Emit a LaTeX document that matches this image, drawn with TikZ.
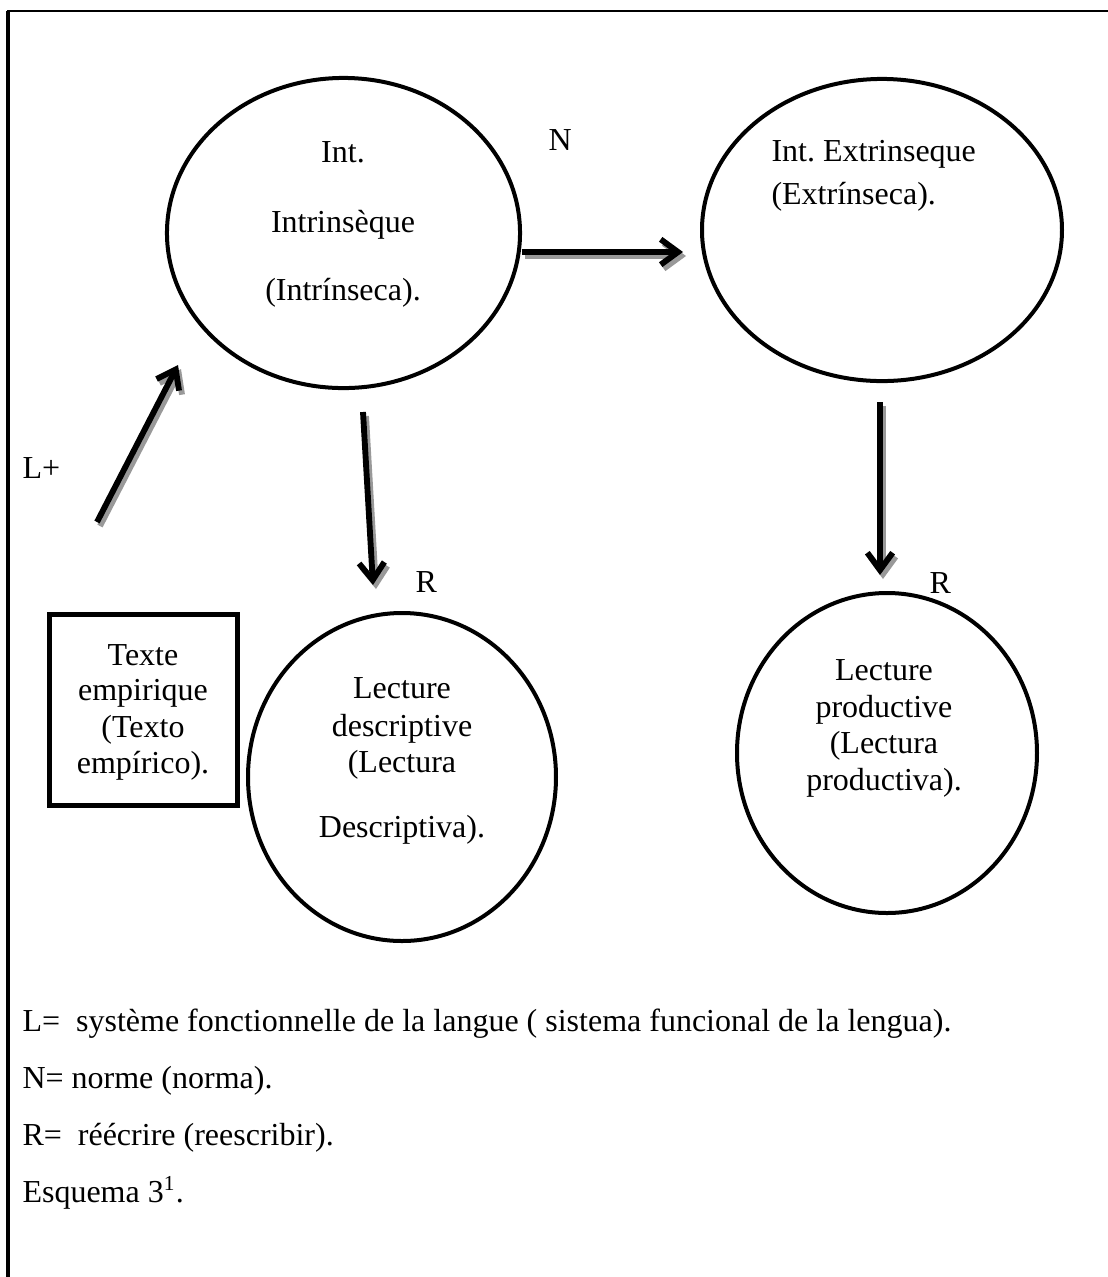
\documentclass[tikz,border=0pt]{standalone}
\usepackage{fontspec}
\setmainfont{Liberation Serif}
\usetikzlibrary{shapes.geometric,arrows.meta}
\begin{document}
\begin{tikzpicture}[x=0.375pt,y=-0.375pt,
  font=\fontsize{12}{14}\selectfont\frenchspacing,
  oval/.style={draw, line width=1.5pt, ellipse, inner sep=0pt},
  lbl/.style={anchor=base, inner sep=0pt},
  lblw/.style={anchor=base west, inner sep=0pt},
  arr/.style={line width=2.2pt, line join=round,
    -{Straight Barb[length=6.5pt,width=9.5pt]}},
  arrshadow/.style={arr, draw=black!40, transform canvas={shift={(3,4)}}},
]
% page
\fill[white] (0,0) rectangle (1108,1277);
\useasboundingbox (0,0) rectangle (1108,1277);
% frame (left and top sides)
\draw[line width=1.2pt] (8,1277) -- (8,10.5);
\draw[line width=0.9pt] (7.4,11) -- (1108,11);

% ovals
\node[oval, minimum width=132.4pt, minimum height=116.3pt] (intr) at (343.5,233) {};
\node[oval, minimum width=135pt, minimum height=113.3pt] (extr) at (882,230) {};
\node[oval, minimum width=115.5pt, minimum height=123pt] (desc) at (402,777) {};
\node[oval, minimum width=112.5pt, minimum height=120pt] (prod) at (887,753) {};
% box
\node[draw, line width=1.9pt, minimum width=70.5pt, minimum height=71.6pt, inner sep=0pt] (texte) at (143.5,710) {};

% text inside the shapes
\node[lbl] (t1a) at (343,162) {Int.};
\node[lbl] (t1b) at (343,232) {Intrinsèque};
\node[lbl] (t1c) at (343,300) {(Intrínseca).};
\node[lblw] (t2a) at (771,161) {Int. Extrinseque};
\node[lblw] (t2b) at (771,204) {(Extrínseca).};
\node[lbl] (t3a) at (402,698) {Lecture};
\node[lbl] (t3b) at (402,736) {descriptive};
\node[lbl] (t3c) at (402,772) {(Lectura};
\node[lbl] (t3d) at (402,837) {Descriptiva).};
\node[lbl] (t4a) at (884,680) {Lecture};
\node[lbl] (t4b) at (884,717) {productive};
\node[lbl] (t4c) at (884,753) {(Lectura};
\node[lbl] (t4d) at (884,790) {productiva).};
\node[lbl] (t5a) at (143,665) {Texte};
\node[lbl] (t5b) at (143,700) {empirique};
\node[lbl] (t5c) at (143,737) {(Texto};
\node[lbl] (t5d) at (143,773) {empírico).};

% connector labels
\node[lblw] (lN) at (548,150) {N};
\node[lblw] (lL) at (22,478) {L+};
\node[lblw] (lR1) at (415,592) {R};
\node[lblw] (lR2) at (929,593) {R};

% arrow end points
\coordinate (hA) at (522,252);
\coordinate (hB) at (683,252);
\coordinate (gA) at (97,522);
\coordinate (gB) at (178,365);
\coordinate (dA) at (363,412);
\coordinate (dB) at (373,585);
\coordinate (pA) at (880,402);
\coordinate (pB) at (880,575);

% arrows with their soft grey shadow
\foreach \s/\e in {hA/hB, gA/gB, dA/dB, pA/pB}{
  \draw[arrshadow] (\s) -- (\e);
  \draw[arr] (\s) -- (\e);
}

% key
\node[lblw] (k1) at (22,1031) {L=\ \ système fonctionnelle de la langue ( sistema funcional de la lengua).};
\node[lblw] (k2) at (22,1088) {N= norme (norma).};
\node[lblw] (k3) at (22,1145) {R=\ \ réécrire (reescribir).};
\node[lblw] (k4) at (22,1202) {Esquema 3\textsuperscript{1}.};
\end{tikzpicture}
\end{document}
